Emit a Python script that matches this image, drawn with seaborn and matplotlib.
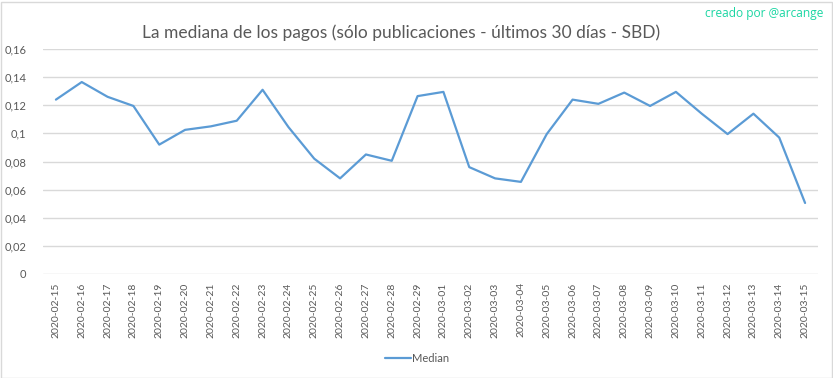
import numpy as np
import pandas as pd
import seaborn as sns
import matplotlib.pyplot as plt
from matplotlib.ticker import FuncFormatter, MultipleLocator
from matplotlib.patches import Rectangle

dates = pd.date_range("2020-02-15", "2020-03-15").strftime("%Y-%m-%d").tolist()
median = [0.124, 0.1365, 0.126, 0.1195, 0.092, 0.1025, 0.105, 0.109, 0.131, 0.1045,
          0.082, 0.068, 0.085, 0.0805, 0.1265, 0.1295, 0.076, 0.068, 0.0655, 0.0995,
          0.124, 0.121, 0.129, 0.1195, 0.1295, 0.114, 0.0995, 0.114, 0.097, 0.0505]

df = pd.DataFrame({"fecha": dates, "Median": median})
df["pos"] = np.arange(len(df))

sns.set_style("white")
plt.rcParams["font.family"] = ["Lato", "DejaVu Sans"]

fig = plt.figure(figsize=(8.33, 3.78), dpi=100)
ax = fig.add_axes([43 / 833, 1 - 274 / 378, 775 / 833, 225 / 378])

sns.lineplot(data=df, x="pos", y="Median", color="#5B9BD5", linewidth=1.6, ax=ax, label="Median")

ax.set_ylim(0, 0.16)
ax.set_xlim(-0.5, len(df) - 0.5)
ax.yaxis.set_major_locator(MultipleLocator(0.02))
ax.yaxis.set_major_formatter(FuncFormatter(lambda v, p: f"{round(v, 2):g}".replace(".", ",")))
ax.set_xticks(df["pos"])
ax.set_xticklabels(dates, rotation=90, fontsize=7.5, color="#595959")
ax.tick_params(axis="y", labelsize=8, colors="#595959", length=0, pad=12)
ax.tick_params(axis="x", length=0, pad=6)
ax.grid(axis="y", color="#D9D9D9", linewidth=1)
ax.set_axisbelow(True)
for s in ax.spines.values():
    s.set_visible(False)
ax.set_xlabel("")
ax.set_ylabel("")

ax.legend(loc="center", bbox_to_anchor=(417 / 833, 1 - 358 / 378), bbox_transform=fig.transFigure,
          frameon=False, fontsize=8, handlelength=2.4, handletextpad=0.1, labelcolor="#595959")

fig.text(401 / 833, 1 - 33 / 378, "La mediana de los pagos (sólo publicaciones - últimos 30 días - SBD)",
         ha="center", va="center", fontsize=12.5, color="#595959")
fig.text(823 / 833, 1 - 14 / 378, "creado por @arcange", ha="right", va="center",
         fontsize=8.6, color="#1BD6A3", family=["Open Sans", "DejaVu Sans"])

fig.patches.append(Rectangle((0.5 / 833, 0.5 / 378), 831 / 833, 376 / 378, transform=fig.transFigure,
                             fill=False, edgecolor="#D9D9D9", linewidth=1))

fig.savefig("out.png", dpi=100)
